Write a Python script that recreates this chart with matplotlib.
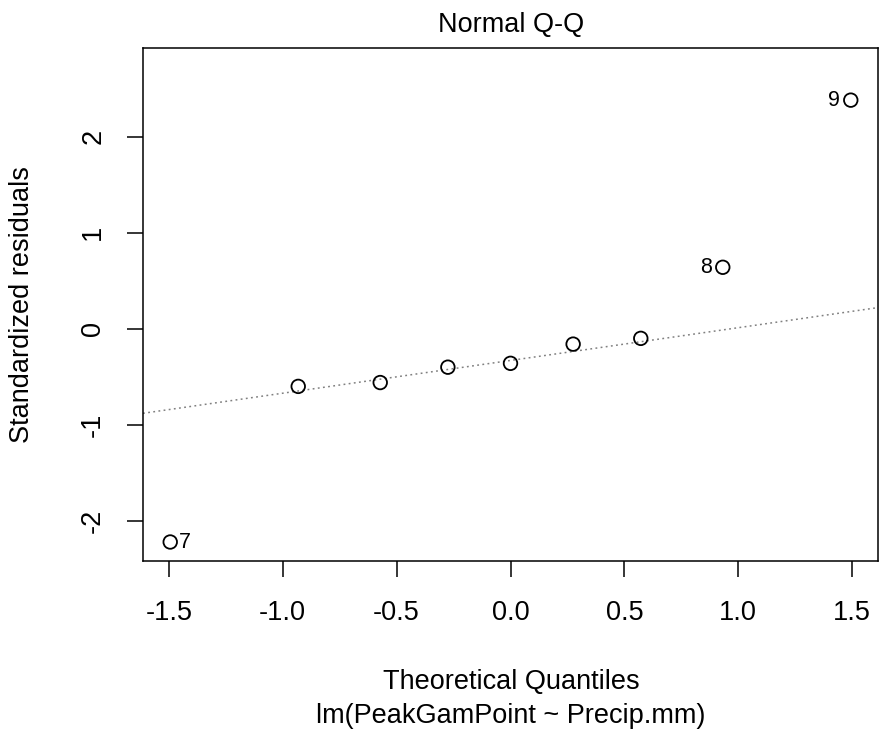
import matplotlib
matplotlib.use("Agg")
import matplotlib.pyplot as plt
import numpy as np
from statistics import NormalDist

plt.rcParams['font.family'] = ['Liberation Sans', 'DejaVu Sans']

# Normal Q-Q data for lm(PeakGamPoint ~ Precip.mm)
theoretical_q = [-1.494, -0.932, -0.572, -0.275, 0.0, 0.275, 0.572, 0.932, 1.494]
std_resid = [-2.22, -0.60, -0.56, -0.40, -0.36, -0.16, -0.10, 0.64, 2.38]
obs_id = [7, None, None, None, None, None, None, 8, 9]
label_side = ['right', None, None, None, None, None, None, 'left', 'left']

x_ticks = [-1.5, -1.0, -0.5, 0.0, 0.5, 1.0, 1.5]
x_ticklabels = ['-1.5', '-1.0', '-0.5', '0.0', '0.5', '1.0', '1.5']
y_ticks = [-2, -1, 0, 1, 2]
y_ticklabels = ['-2', '-1', '0', '1', '2']

FS = 19.5

fig = plt.figure(figsize=(8.8, 7.36), dpi=100)
ax = fig.add_axes([143 / 880, 1 - 561 / 736, (878 - 143) / 880, (561 - 48) / 736])

# axis ranges as R computes them (extra headroom for labels, then 4% padding)
xr = [min(theoretical_q), max(theoretical_q)]
yr = [min(std_resid), max(std_resid)]
yr[1] += (yr[1] - yr[0]) * 0.075
xpad = (xr[1] - xr[0]) * 0.04
ypad = (yr[1] - yr[0]) * 0.04
ax.set_xlim(xr[0] - xpad, xr[1] + xpad)
ax.set_ylim(yr[0] - ypad, yr[1] + ypad)

# reference line through the quartiles
q1, q3 = np.quantile(std_resid, [0.25, 0.75])
z1, z3 = NormalDist().inv_cdf(0.25), NormalDist().inv_cdf(0.75)
slope = (q3 - q1) / (z3 - z1)
intercept = q1 - slope * z1
ax.axline((0, intercept), slope=slope, color='#808080', lw=1.1,
          linestyle=(0, (1.2, 2.2)), zorder=1)

ax.scatter(theoretical_q, std_resid, s=95, facecolors='none',
           edgecolors='black', linewidths=1.3, zorder=3)

for x, y, lab, side in zip(theoretical_q, std_resid, obs_id, label_side):
    if lab is None:
        continue
    if side == 'left':
        ax.annotate(str(lab), (x, y), xytext=(-8, 0), textcoords='offset points',
                    ha='right', va='center', fontsize=15.5)
    else:
        ax.annotate(str(lab), (x, y), xytext=(6, 0), textcoords='offset points',
                    ha='left', va='center', fontsize=15.5)

ax.set_xticks(x_ticks)
ax.set_xticklabels(x_ticklabels, fontsize=FS)
ax.set_yticks(y_ticks)
ax.set_yticklabels(y_ticklabels, fontsize=FS, rotation=90, va='center')
ax.tick_params(axis='both', direction='out', length=11.5, width=1.1, colors='black')
ax.tick_params(axis='x', pad=16.5)
ax.tick_params(axis='y', pad=15)
for sp in ax.spines.values():
    sp.set_linewidth(1.1)

ax.set_ylabel('Standardized residuals', fontsize=FS)
ax.yaxis.set_label_coords(-(143 - 35) / 735, 0.5)

fig.text(511 / 880, 1 - 682 / 736, 'Theoretical Quantiles', ha='center', va='center', fontsize=FS)
fig.text(511 / 880, 1 - 716 / 736, 'lm(PeakGamPoint ~ Precip.mm)', ha='center', va='center', fontsize=FS)
fig.text(511 / 880, 1 - 25 / 736, 'Normal Q-Q', ha='center', va='center', fontsize=FS)

fig.savefig('out.png', dpi=100, facecolor='white')
